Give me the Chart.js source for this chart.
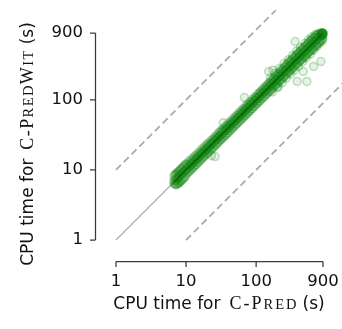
<!DOCTYPE html>
<html>
<head>
<meta charset="utf-8">
<script src="https://cdn.jsdelivr.net/npm/chart.js@4"></script>
<style>
  html, body { margin: 0; padding: 0; background: #fff; }
  canvas { display: block; }
</style>
</head>
<body>
<canvas id="chart" width="342" height="329"></canvas>
<script>
// CPU time (s) per instance, C-Pred on x, C-PredWit on y
const cpredTimes = [
  6.7, 6.9, 7.1, 7.3, 7.5, 7.7, 7.9, 8.1, 8.4, 8.6, 8.9, 9.2, 9.5, 9.8,
  10.1, 10.5, 10.9, 11.3, 11.7, 12.1, 12.6, 13.0, 13.5, 14.0, 14.5, 15.0, 15.6, 16.2, 16.8, 17.4, 18.0, 18.7, 19.4, 20.1, 20.8, 21.6, 22.4, 23.2, 24.1, 25.0, 25.9, 26.8, 27.8, 28.8, 29.9,
  31.0, 32.1, 33.3, 34.5, 35.8, 37.1, 38.5, 39.9, 41.4, 42.9, 44.5, 46.1, 47.8, 49.6, 51.4, 53.3, 55.3, 57.3, 59.4, 61.6, 63.9, 66.3, 68.7, 71.2, 73.9, 76.6, 79.4, 82.3, 85.4, 88.5, 91.8, 95.2, 98.7,
  102, 106, 110, 114, 118, 123, 127, 132, 137, 142, 147, 153, 158, 164, 170, 176, 183, 190, 197, 204, 212, 219, 227, 236, 245, 254, 263, 273, 283, 293,
  304, 315, 327, 339, 352, 365, 378, 392, 407, 422, 437, 453, 470, 487, 505, 524, 543, 563, 584, 606, 628, 651, 675, 700, 726, 753, 781, 810, 840, 870, 900,
];
const witTimesHigh = [
  8.1, 8.6, 8.4, 9.0, 8.9, 9.5, 9.4, 9.9, 10.0, 10.6, 10.6, 11.3, 11.3, 12.0,
  12.3, 11.9, 13.2, 12.6, 14.1, 13.4, 15.0, 14.3, 16.0, 15.3, 17.1, 16.4, 18.3, 17.6, 19.9, 19.0, 21.2, 20.3, 22.9, 21.8, 24.3, 23.4, 26.1, 25.0, 27.9, 27.0, 30.0, 29.0, 32.3, 31.1, 34.8,
  34.4, 37.2, 36.6, 39.7, 39.4, 42.7, 41.9, 45.9, 44.7, 49.3, 48.1, 53.0, 51.6, 57.0, 55.5, 61.3, 59.7, 65.9, 64.2, 70.8, 69.0, 76.2, 74.2, 81.9, 79.8, 88.1, 85.8, 94.6, 92.2, 101.8, 99.1, 109.5, 106.6,
  113, 122, 121, 131, 130, 141, 140, 152, 151, 163, 162, 176, 174, 189, 187, 202, 203, 220, 219, 237, 237, 255, 253, 275, 274, 297, 296, 320, 319, 345,
  351, 366, 378, 394, 407, 424, 437, 455, 471, 490, 506, 526, 544, 565, 585, 607, 630, 651, 676, 700, 726, 750, 778, 804, 833, 860, 880, 893, 898, 900, 900,
];
const witTimesMid = [
  6.9, 7.3, 7.0, 7.5, 7.4, 7.9, 8.0, 8.2, 8.5, 8.7, 9.0, 9.3, 9.6, 9.9,
  10.2, 10.6, 11.0, 11.4, 11.8, 12.2, 12.7, 13.1, 13.6, 14.1, 14.6, 15.1, 15.7, 16.3, 16.9, 17.5, 18.2, 18.8, 19.6, 20.2, 21.0, 21.7, 22.6, 23.3, 24.3, 25.1, 26.1, 26.9, 28.0, 28.9, 30.1,
  31.1, 32.4, 33.4, 34.8, 35.9, 37.4, 38.6, 40.2, 41.5, 43.2, 44.6, 46.5, 47.9, 50.0, 51.5, 53.7, 55.4, 57.8, 59.5, 62.1, 64.0, 66.8, 68.8, 71.8, 74.0, 77.2, 79.5, 83.0, 85.5, 89.2, 91.9, 96.0, 98.8,
  103, 106, 111, 114, 119, 123, 128, 132, 138, 142, 148, 153, 159, 164, 171, 176, 184, 190, 198, 204, 213, 219, 228, 236, 246, 254, 264, 273, 285, 293,
  306, 315, 329, 339, 354, 365, 380, 392, 409, 422, 440, 453, 473, 487, 508, 524, 546, 563, 587, 606, 631, 651, 678, 700, 729, 753, 785, 810, 840, 868, 895,
];
const witTimesLow = [
  6.4, 6.3, 6.1, 6.3, 6.2, 6.5, 6.5, 6.7, 6.9, 7.1, 7.3, 7.6, 7.8, 8.1,
  8.8, 9.0, 9.5, 9.6, 10.2, 10.3, 10.9, 11.1, 11.7, 11.9, 12.6, 12.8, 13.5, 13.9, 14.6, 14.9, 15.6, 16.1, 16.8, 17.2, 18.0, 18.5, 19.4, 19.8, 20.9, 21.3, 22.5, 22.8, 24.1, 24.5, 26.0,
  27.0, 27.3, 29.0, 29.3, 31.1, 31.5, 33.5, 33.9, 36.0, 36.5, 38.7, 39.2, 41.6, 42.2, 44.7, 45.3, 48.1, 48.7, 51.7, 52.4, 55.6, 56.4, 59.8, 60.5, 64.3, 65.1, 69.1, 70.0, 74.3, 75.2, 79.9, 80.9, 85.9,
  88.7, 90.1, 95.7, 96.9, 103, 105, 110, 112, 119, 121, 128, 130, 137, 139, 148, 150, 159, 162, 171, 173, 184, 186, 197, 201, 213, 216, 229, 232, 246, 249,
  262, 271, 281, 291, 302, 313, 324, 335, 347, 359, 372, 385, 398, 413, 427, 442, 458, 474, 491, 508, 526, 545, 564, 585, 606, 628, 652, 678, 705, 733, 760,
];
// wider spread near the top and the few stray runs
const extraCpred = [
  160, 185, 215, 250, 290, 330, 380, 430, 500, 560, 620, 700,
  170, 200, 235, 270, 310, 350, 400, 460, 520, 590, 660, 740, 820, 880,
  880, 890, 895, 860, 900, 850, 900, 880,
  361, 840, 660, 530, 385, 470, 68, 34, 23, 26,
  151, 175, 207,
];
const extraWit = [
  205, 240, 280, 330, 375, 430, 500, 560, 640, 720, 790, 860,
  130, 150, 175, 205, 235, 265, 300, 350, 400, 450, 510, 580, 650, 700,
  880, 860, 900, 890, 840, 820, 880, 820,
  680, 352, 300, 183, 183, 254, 108, 47, 16, 15.5,
  254, 265, 155,
];
const tickValues = [1, 10, 100, 900];

const SANS = "'DejaVu Sans', sans-serif";
const SERIF = "'Liberation Serif', serif";

const points = [];
cpredTimes.forEach((x, i) => {
  points.push({ x, y: witTimesHigh[i] }, { x, y: witTimesMid[i] }, { x, y: witTimesLow[i] });
});
extraCpred.forEach((x, i) => points.push({ x, y: extraWit[i] }));

// title made of runs in different fonts (small caps done by hand)
function drawParts(ctx, parts) {
  let total = 0;
  parts.forEach((p) => {
    ctx.font = p.font;
    ctx.letterSpacing = (p.sp || 0) + "px";
    p.w = ctx.measureText(p.text).width + (p.gap || 0);
    total += p.w;
  });
  let x = -total / 2;
  parts.forEach((p) => {
    ctx.font = p.font;
    ctx.letterSpacing = (p.sp || 0) + "px";
    ctx.fillText(p.text, x, 0);
    x += p.w;
  });
  ctx.letterSpacing = "0px";
}

const axesPlugin = {
  id: "offsetAxes",
  afterDraw(chart) {
    const { ctx, chartArea } = chart;
    const xs = chart.scales.x;
    const ys = chart.scales.y;
    const sx = chartArea.left - 20.5;
    const sy = chartArea.bottom + 21.5;
    ctx.save();
    ctx.strokeStyle = "#3a3a3a";
    ctx.lineWidth = 1.25;
    ctx.beginPath();
    ctx.moveTo(sx, ys.getPixelForValue(1));
    ctx.lineTo(sx, ys.getPixelForValue(900));
    ctx.moveTo(xs.getPixelForValue(1), sy);
    ctx.lineTo(xs.getPixelForValue(900), sy);
    tickValues.forEach((v) => {
      const py = ys.getPixelForValue(v);
      ctx.moveTo(sx - 5.5, py);
      ctx.lineTo(sx, py);
      const px = xs.getPixelForValue(v);
      ctx.moveTo(px, sy);
      ctx.lineTo(px, sy + 5.5);
    });
    ctx.stroke();

    ctx.fillStyle = "#111";
    ctx.textBaseline = "alphabetic";
    ctx.textAlign = "left";
    ctx.translate(219, 309);
    drawParts(ctx, [
      { text: "CPU time for", font: "17px " + SANS, gap: 9 },
      { text: "C-P", font: "18px " + SERIF, sp: 2 },
      { text: "RED", font: "14.5px " + SERIF, sp: 2, gap: 4 },
      { text: "(s)", font: "17px " + SANS },
    ]);
    ctx.setTransform(1, 0, 0, 1, 0, 0);
    ctx.translate(33, 144);
    ctx.rotate(-Math.PI / 2);
    drawParts(ctx, [
      { text: "CPU time for", font: "17px " + SANS, gap: 9 },
      { text: "C-P", font: "18px " + SERIF, sp: 1.4 },
      { text: "RED", font: "14.5px " + SERIF, sp: 1.4 },
      { text: "W", font: "18px " + SERIF, sp: 1.4 },
      { text: "IT", font: "14.5px " + SERIF, sp: 1.4, gap: 5 },
      { text: "(s)", font: "17px " + SANS },
    ]);
    ctx.restore();
  },
};

const tickOpts = {
  color: "#111",
  font: { family: "DejaVu Sans", size: 16.5 },
  autoSkip: false,
  maxRotation: 0,
  callback: (v) => String(v),
};

// labels may overhang the plot, so drop the padding Chart.js adds for them
function noOverhang(s) {
  s.paddingLeft = 0;
  s.paddingRight = 0;
  s.paddingTop = 0;
  s.paddingBottom = 0;
}

new Chart(document.getElementById("chart"), {
  type: "scatter",
  data: {
    datasets: [
      {
        data: [{ x: 1, y: 1 }, { x: 900, y: 900 }],
        showLine: true,
        borderColor: "rgba(0,0,0,0.3)",
        borderWidth: 1.5,
        pointRadius: 0,
        clip: false,
        order: 0,
      },
      {
        data: points,
        pointRadius: 4,
        borderWidth: 1.5,
        borderColor: "rgba(0,128,0,0.24)",
        backgroundColor: "rgba(0,128,0,0.1)",
        clip: false,
        order: 1,
      },
      {
        data: [{ x: 1, y: 10 }, { x: 190, y: 1900 }],
        showLine: true,
        borderColor: "#ababab",
        borderDash: [7, 4],
        borderWidth: 1.8,
        pointRadius: 0,
        clip: false,
        order: 2,
      },
      {
        data: [{ x: 10, y: 1 }, { x: 2500, y: 250 }],
        showLine: true,
        borderColor: "#ababab",
        borderDash: [7, 4],
        borderWidth: 1.8,
        pointRadius: 0,
        clip: false,
        order: 2,
      },
    ],
  },
  options: {
    responsive: false,
    animation: false,
    devicePixelRatio: 1,
    layout: { padding: { top: 33, right: 19, bottom: 0, left: 0 } },
    plugins: { legend: { display: false }, tooltip: { enabled: false } },
    scales: {
      x: {
        type: "logarithmic",
        min: 1,
        max: 900,
        grid: { display: false, drawTicks: false },
        border: { display: false },
        ticks: { ...tickOpts, padding: 32 },
        afterBuildTicks: (s) => { s.ticks = tickValues.map((v) => ({ value: v })); },
        afterFit: (s) => { s.height = 89; noOverhang(s); },
      },
      y: {
        type: "logarithmic",
        min: 1,
        max: 900,
        grid: { display: false, drawTicks: false },
        border: { display: false },
        ticks: { ...tickOpts, padding: 33 },
        afterBuildTicks: (s) => { s.ticks = tickValues.map((v) => ({ value: v })); },
        afterFit: (s) => { s.width = 116; noOverhang(s); },
      },
    },
  },
  plugins: [axesPlugin],
});
</script>
</body>
</html>
